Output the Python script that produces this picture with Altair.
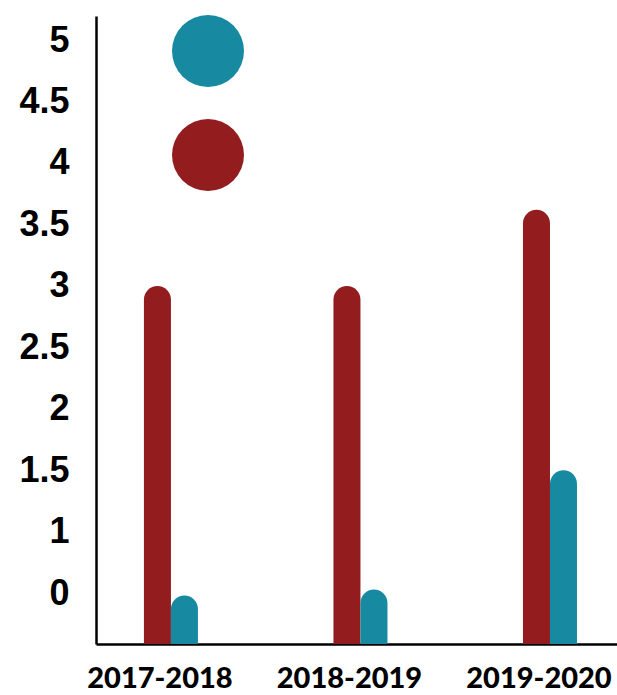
import altair as alt
import pandas as pd

# School years on the x axis
years = ["2017-2018", "2018-2019", "2019-2020"]
# Series values per year
suspensions = [3.0, 3.0, 3.62]
schools = [0.48, 0.53, 1.5]

series_names = ["Number of suspensions", "Number of different schools attended"]
series_colors = ["#931c1f", "#178aa2"]

# y tick values and the text shown for each
tick_values = [0.5, 1, 1.5, 2, 2.5, 3, 3.5, 4, 4.5, 5]
tick_labels = ["0", "1", "1.5", "2", "2.5", "3", "3.5", "4", "4.5", "5"]
y_min, y_max = 0.086, 5.196

rows = []
for i, yr in enumerate(years):
    rows.append({"year": yr, "series": series_names[0], "value": suspensions[i]})
    rows.append({"year": yr, "series": series_names[1], "value": schools[i]})
df = pd.DataFrame(rows)

label_map = "{" + ",".join(f"'{v}':'{t}'" for v, t in zip(tick_values, tick_labels)) + "}"
color_scale = alt.Scale(domain=series_names, range=series_colors)

bars = alt.Chart(df).mark_bar(cornerRadiusTopLeft=13.5, cornerRadiusTopRight=13.5).encode(
    x=alt.X(
        "year:N",
        sort=years,
        scale=alt.Scale(paddingInner=0.715, paddingOuter=0.232, align=0.545),
        axis=alt.Axis(
            title=None, labelAngle=0, ticks=False,
            domainColor="black", domainWidth=2.5,
            labelFont="Lato", labelFontWeight=900, labelFontSize=29,
            labelColor="black", labelPadding=20, labelOffset=-11,
        ),
    ),
    xOffset=alt.XOffset("series:N", sort=series_names, scale=alt.Scale(domain=series_names)),
    y=alt.Y(
        "value:Q",
        scale=alt.Scale(domain=[y_min, y_max], zero=False, nice=False, clamp=True),
        axis=alt.Axis(
            title=None, values=tick_values,
            labelExpr=f"{label_map}[toString(datum.value)]",
            ticks=False, grid=False,
            domainColor="black", domainWidth=2.5,
            labelFont="Liberation Sans", labelFontWeight="bold", labelFontSize=36,
            labelColor="black", labelPadding=27,
        ),
    ),
    y2=alt.datum(y_min),
    color=alt.Color("series:N", scale=color_scale, legend=None),
)

# Key: one dot per series
key_dots = pd.DataFrame({
    "series": [series_names[1], series_names[0]],
    "colour": [series_colors[1], series_colors[0]],
})
dot_y = [35, 139]

layers = [bars]
for i in range(2):
    layers.append(
        alt.Chart(key_dots.iloc[[i]]).mark_point(
            filled=True, shape="circle", size=5184, opacity=1, strokeWidth=0
        ).encode(
            x=alt.value(112), y=alt.value(dot_y[i]),
            color=alt.Color("colour:N", scale=None),
        )
    )

chart = alt.layer(*layers).properties(
    width=521,
    height=628,
    autosize=alt.AutoSizeParams(type="none"),
    padding={"left": 96, "top": 16, "right": 0, "bottom": 51},
).configure(
    background="white",
    view=alt.ViewConfig(stroke="transparent", strokeWidth=0),
)

chart.save("out.html", embed_options={"renderer": "svg", "actions": False})
